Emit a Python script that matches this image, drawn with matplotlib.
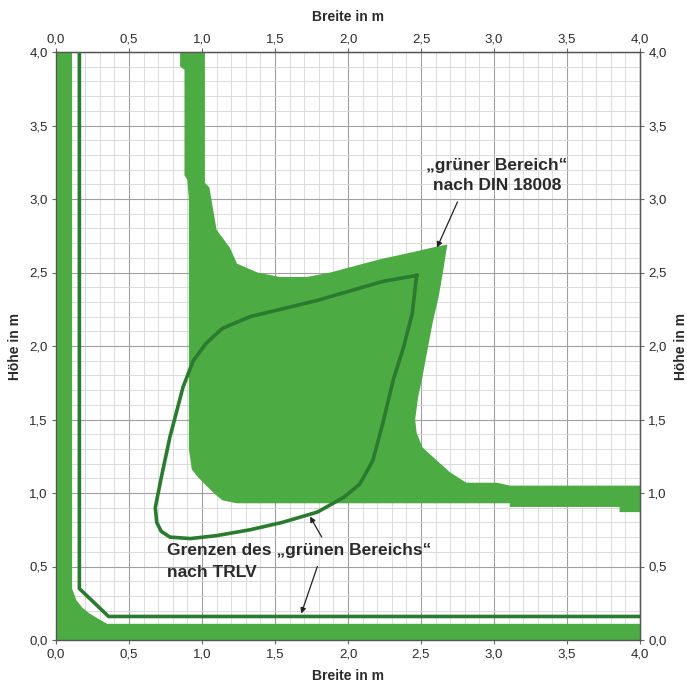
import matplotlib
matplotlib.use("Agg")
import matplotlib.pyplot as plt
from matplotlib.ticker import FuncFormatter, MultipleLocator
import numpy as np

plt.rcParams['font.family'] = ['Liberation Sans', 'DejaVu Sans']

# green area after DIN 18008: L-shaped strip along left and bottom edge
din_edge_x = [0.0, 4.0, 4.0, 0.35, 0.28, 0.23, 0.18, 0.14, 0.11, 0.11, 0.0]
din_edge_y = [0.0, 0.0, 0.11, 0.11, 0.15, 0.18, 0.22, 0.27, 0.35, 4.0, 4.0]

# green area after DIN 18008: main region (vertical bar, blob, horizontal strip)
din_main_x = [0.85, 1.02, 1.02, 1.05, 1.10, 1.19, 1.24, 1.38, 1.53, 1.72, 1.88, 2.03,
              2.22, 2.45, 2.58, 2.68, 2.65, 2.62, 2.58, 2.54, 2.51, 2.48, 2.46, 2.47,
              2.51, 2.61, 2.70, 2.81, 3.02, 3.11, 4.0, 4.0, 3.86, 3.86, 3.11, 3.11,
              1.24, 1.14, 1.08, 1.01, 0.97, 0.93, 0.91, 0.91, 0.90, 0.88, 0.88, 0.85]
din_main_y = [4.0, 4.0, 3.11, 3.08, 2.79, 2.67, 2.56, 2.50, 2.47, 2.47, 2.50, 2.54,
              2.59, 2.64, 2.67, 2.69, 2.50, 2.33, 2.16, 1.95, 1.79, 1.65, 1.50, 1.41,
              1.31, 1.22, 1.14, 1.07, 1.07, 1.05, 1.05, 0.87, 0.87, 0.905, 0.905, 0.93,
              0.93, 0.95, 1.00, 1.07, 1.11, 1.16, 1.30, 3.00, 3.13, 3.16, 3.88, 3.90]

# TRLV limits: closed loop
trlv_loop_x = [2.47, 2.24, 1.79, 1.33, 1.14, 1.03, 0.94, 0.87, 0.78, 0.72, 0.68, 0.69,
               0.72, 0.78, 0.92, 1.10, 1.33, 1.55, 1.79, 1.97, 2.08, 2.17, 2.24, 2.31,
               2.38, 2.44, 2.47]
trlv_loop_y = [2.48, 2.44, 2.31, 2.20, 2.12, 2.02, 1.90, 1.72, 1.38, 1.10, 0.90, 0.80,
               0.74, 0.70, 0.69, 0.71, 0.75, 0.80, 0.87, 0.97, 1.06, 1.22, 1.48, 1.77,
               1.99, 2.22, 2.48]

# TRLV limits: L-shaped line along the edges
trlv_edge_x = [0.16, 0.16, 0.36, 4.0]
trlv_edge_y = [4.0, 0.35, 0.16, 0.16]

ticks = np.arange(0, 4.01, 0.5)

green = '#4cab42'
dark_green = '#2a7b2f'
txt = '#2a2a2a'

fig = plt.figure(figsize=(6.87, 6.84), dpi=100)
ax = fig.add_axes([56/687, 44/684, 584/687, 588/684])

ax.fill(din_edge_x, din_edge_y, color=green, lw=0, zorder=2)
ax.fill(din_main_x, din_main_y, color=green, lw=0, zorder=2)
ax.plot(trlv_loop_x, trlv_loop_y, color=dark_green, lw=2.6, zorder=3,
        solid_joinstyle='round')
ax.plot(trlv_edge_x, trlv_edge_y, color=dark_green, lw=2.6, zorder=3)

ax.set_xlim(0, 4)
ax.set_ylim(0, 4)

fmt = FuncFormatter(lambda v, p: f"{v:.1f}".replace(".", ","))
ax.set_xticks(ticks)
ax.set_yticks(ticks)
ax.xaxis.set_major_formatter(fmt)
ax.yaxis.set_major_formatter(fmt)
ax.xaxis.set_minor_locator(MultipleLocator(0.1))
ax.yaxis.set_minor_locator(MultipleLocator(0.1))
ax.grid(which='major', color='#a0a0a0', lw=0.8, zorder=0)
ax.grid(which='minor', color='#d6d6d6', lw=0.6, zorder=0)
ax.set_axisbelow(True)
ax.tick_params(which='major', length=3, width=0.8, color='#666', labelsize=9.5,
               labelcolor=txt, pad=3)
ax.tick_params(which='minor', length=0)
for s in ax.spines.values():
    s.set_color('#555')
    s.set_linewidth(1.0)

ax.set_xlabel("Breite in m", fontsize=10, fontweight='bold', color=txt, labelpad=6)
ax.set_ylabel("Höhe in m", fontsize=10, fontweight='bold', color=txt, labelpad=5)

top = ax.secondary_xaxis('top')
top.set_xticks(ticks)
top.xaxis.set_major_formatter(fmt)
top.tick_params(length=3, width=0.8, color='#666', labelsize=9.5, labelcolor=txt, pad=2)
top.set_xlabel("Breite in m", fontsize=10, fontweight='bold', color=txt, labelpad=9)

right = ax.secondary_yaxis('right')
right.set_yticks(ticks)
right.yaxis.set_major_formatter(fmt)
right.tick_params(length=3, width=0.8, color='#666', labelsize=9.5, labelcolor=txt, pad=3)
right.set_ylabel("Höhe in m", fontsize=10, fontweight='bold', color=txt, labelpad=5)

ax.text(3.02, 3.16, "„grüner Bereich“\nnach DIN 18008", ha='center', va='center',
        fontsize=12.5, fontweight='bold', color=txt, linespacing=1.4, zorder=4)
ax.text(0.76, 0.535, "Grenzen des „grünen Bereichs“\nnach TRLV", ha='left', va='center',
        fontsize=12.5, fontweight='bold', color=txt, linespacing=1.55, zorder=4)

arrow = dict(arrowstyle='-|>', color='#222', lw=0.9, mutation_scale=8,
             shrinkA=0, shrinkB=0)
ax.annotate('', xy=(2.61, 2.67), xytext=(2.75, 2.98), arrowprops=arrow, zorder=5)
ax.annotate('', xy=(1.74, 0.84), xytext=(1.82, 0.70), arrowprops=arrow, zorder=5)
ax.annotate('', xy=(1.68, 0.18), xytext=(1.79, 0.50), arrowprops=arrow, zorder=5)

fig.savefig("out.png", dpi=100)
